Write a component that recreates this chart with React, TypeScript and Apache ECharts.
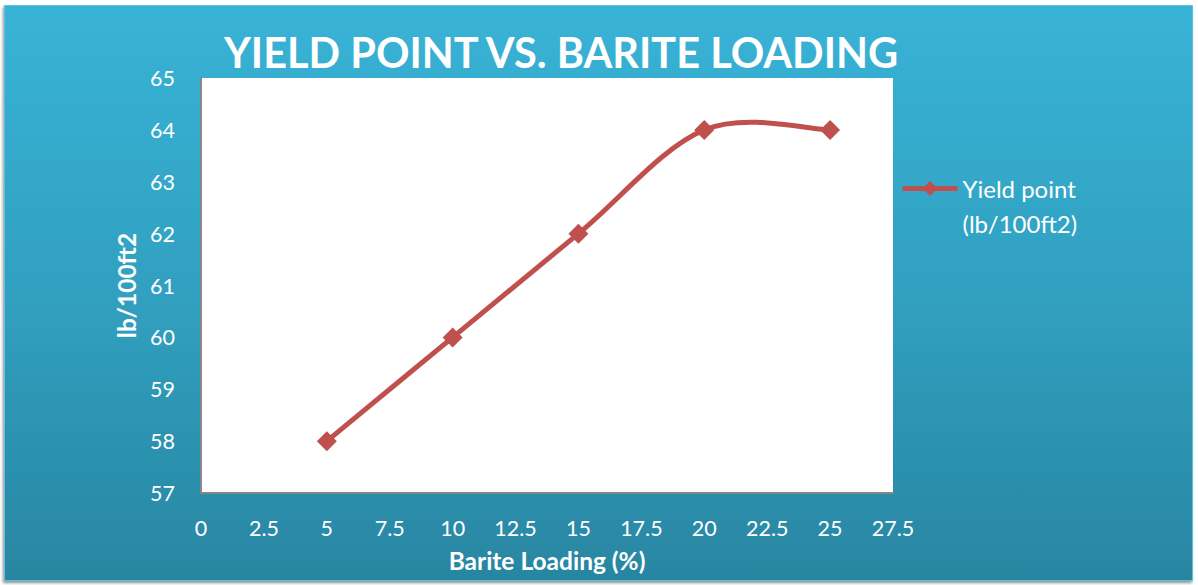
import React, { useEffect, useRef } from "react";
import * as echarts from "echarts";

const seriesName = "Yield point (lb/100ft2)";
const bariteLoading = [5, 10, 15, 20, 25];
const yieldPoint = [58, 60, 62, 64, 64];
const titleText = "YIELD POINT VS. BARITE LOADING";
const xAxisName = "Barite Loading (%)";
const yAxisName = "lb/100ft2";

const FONT = "Lato, 'Open Sans', sans-serif";
const RED = "#c0504d";

export default function App() {
  const ref = useRef<HTMLDivElement>(null);
  useEffect(() => {
    if (!ref.current) return;
    const chart = echarts.init(ref.current, null, { renderer: "svg" });
    const tension = 1 / 6;
    chart.setOption({
      animation: false,
      backgroundColor: "#ffffff",
      textStyle: { fontFamily: FONT },
      graphic: [
        {
          type: "rect",
          z: -10,
          silent: true,
          shape: { x: 4.5, y: 5.5, width: 1188, height: 575 },
          style: {
            fill: new echarts.graphic.LinearGradient(0, 0, 0, 1, [
              { offset: 0, color: "#38b3d6" },
              { offset: 0.5, color: "#31a0c0" },
              { offset: 1, color: "#2886a2" },
            ]),
            stroke: "#5cc4e0",
            lineWidth: 1,
            shadowColor: "rgba(0,0,0,0.45)",
            shadowBlur: 3,
            shadowOffsetX: -1,
            shadowOffsetY: 2,
          },
        },
      ],
      title: {
        text: titleText,
        left: 556,
        textAlign: "center",
        top: 26,
        textStyle: {
          color: "#ffffff",
          fontSize: 41.5,
          fontWeight: "bold",
          fontFamily: FONT,
        },
      },
      grid: {
        left: 201,
        top: 78,
        right: 305,
        bottom: 92,
        containLabel: false,
        show: true,
        backgroundColor: "#ffffff",
        borderWidth: 0,
      },
      legend: {
        left: 900,
        top: 136,
        padding: 0,
        itemWidth: 55,
        itemHeight: 19,
        itemGap: 0,
        formatter: () => "\nYield point\n(lb/100ft2)",
        lineStyle: { color: RED, width: 5, opacity: 1 },
        itemStyle: { color: RED, opacity: 1 },
        textStyle: { color: "#ffffff", fontSize: 24, lineHeight: 35, fontFamily: FONT },
        data: [seriesName],
      },
      xAxis: {
        type: "value",
        min: 0,
        max: 27.5,
        interval: 2.5,
        name: xAxisName,
        nameLocation: "middle",
        nameGap: 55,
        nameTextStyle: { color: "#ffffff", fontSize: 24.5, fontWeight: "bold", fontFamily: FONT },
        axisLine: { show: true, lineStyle: { color: "#878787", width: 2 } },
        axisTick: { show: false },
        splitLine: { show: false },
        axisLabel: { color: "#ffffff", fontSize: 21.5, margin: 24, fontFamily: FONT },
      },
      yAxis: {
        type: "value",
        min: 57,
        max: 65,
        interval: 1,
        name: yAxisName,
        nameLocation: "middle",
        nameGap: 60,
        nameTextStyle: { color: "#ffffff", fontSize: 24.5, fontWeight: "bold", fontFamily: FONT },
        axisLine: { show: true, lineStyle: { color: "#878787", width: 2 } },
        axisTick: { show: false },
        splitLine: { show: false },
        axisLabel: { color: "#ffffff", fontSize: 21.5, margin: 26, fontFamily: FONT },
      },
      series: [
        {
          name: "curve",
          type: "custom",
          silent: true,
          z: 2,
          data: [0],
          renderItem: (_params: any, api: any) => {
            const pts = bariteLoading.map((x, i) => api.coord([x, yieldPoint[i]]));
            let d = `M${pts[0][0]},${pts[0][1]}`;
            for (let i = 0; i < pts.length - 1; i++) {
              const p0 = pts[i - 1] || pts[i];
              const p1 = pts[i];
              const p2 = pts[i + 1];
              const p3 = pts[i + 2] || pts[i + 1];
              const c1x = p1[0] + (p2[0] - p0[0]) * tension;
              const c1y = p1[1] + (p2[1] - p0[1]) * tension;
              const c2x = p2[0] - (p3[0] - p1[0]) * tension;
              const c2y = p2[1] - (p3[1] - p1[1]) * tension;
              d += ` C${c1x},${c1y} ${c2x},${c2y} ${p2[0]},${p2[1]}`;
            }
            return {
              type: "path",
              shape: { pathData: d },
              style: { fill: "none", stroke: RED, lineWidth: 5, lineCap: "round", lineJoin: "round" },
            };
          },
        },
        {
          name: seriesName,
          type: "line",
          data: bariteLoading.map((x, i) => [x, yieldPoint[i]]),
          symbol: "diamond",
          symbolSize: 20,
          lineStyle: { color: RED, width: 5, opacity: 0 },
          itemStyle: { color: RED },
          z: 3,
        },
      ],
    });
    return () => chart.dispose();
  }, []);
  return (
    <div
      ref={ref}
      style={{ position: "absolute", left: 0, top: 0, width: 1198, height: 585 }}
    />
  );
}
